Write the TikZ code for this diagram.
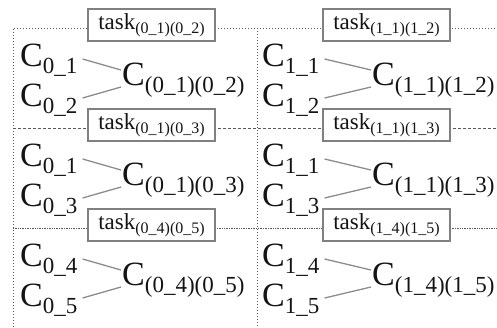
\documentclass[tikz,border=0pt]{standalone}
\usepackage{fontspec}
\setmainfont{Liberation Serif}
\newcommand{\bigC}[1]{{\fontsize{34}{34}\selectfont C\raisebox{-7pt}{\fontsize{23}{23}\selectfont #1}}}
\newcommand{\taskT}[1]{{\fontsize{23}{23}\selectfont task\raisebox{-4pt}{\fontsize{16}{16}\selectfont #1}}}
% #1 id, #2 x of small labels, #3 x of joined label, #4 x of task box, #5 y offset, #6 first, #7 second
\newcommand{\cellpair}[7]{%
  \node[lbl] (a#1) at (#2, 66+#5) {\bigC{#6}};
  \node[lbl] (b#1) at (#2, 106+#5) {\bigC{#7}};
  \node[lbl] (c#1) at (#3, 85+#5) {\bigC{(#6)(#7)}};
  \node[taskbox] (t#1) at (#4, 25+#5) {\taskT{(#6)(#7)}};
  \draw[link] ([xshift=5pt,yshift=7pt]a#1.base east) -- ([xshift=-1pt,yshift=15pt]c#1.base west);
  \draw[link] ([xshift=5pt,yshift=8pt]b#1.base east) -- ([xshift=-1pt,yshift=-2pt]c#1.base west);
}
\begin{document}
\begin{tikzpicture}[x=1pt,y=-1pt,
  lbl/.style={anchor=base west, inner sep=0pt, text=black!92},
  taskbox/.style={draw=black!50, line width=1.3pt, fill=white, minimum width=127pt, minimum height=32pt, inner sep=0pt, text=black!92},
  link/.style={draw=black!45, line width=1.3pt},
  gdot/.style={draw=black!65, line width=0.9pt, dash pattern=on 1pt off 2pt},
  gdash/.style={draw=black!65, line width=0.9pt, dash pattern=on 3pt off 2pt},
  gfine/.style={draw=black!65, line width=0.8pt, dash pattern=on 1pt off 0.7pt}]
\useasboundingbox (0,0) rectangle (497,327);
\draw[gdot] (13,327) -- (13,28) -- (497,28);
\draw[gdot] (257,28) -- (257,327);
\draw[gdash] (13,128) -- (497,128);
\draw[gfine] (13,228) -- (497,228);
\cellpair{1}{20}{122}{151.5}{0}{0\_1}{0\_2}
\cellpair{2}{20}{122}{151.5}{100}{0\_1}{0\_3}
\cellpair{3}{20}{122}{151.5}{200}{0\_4}{0\_5}
\cellpair{4}{262}{372}{386.5}{0}{1\_1}{1\_2}
\cellpair{5}{262}{372}{386.5}{100}{1\_1}{1\_3}
\cellpair{6}{262}{372}{386.5}{200}{1\_4}{1\_5}
\end{tikzpicture}
\end{document}
